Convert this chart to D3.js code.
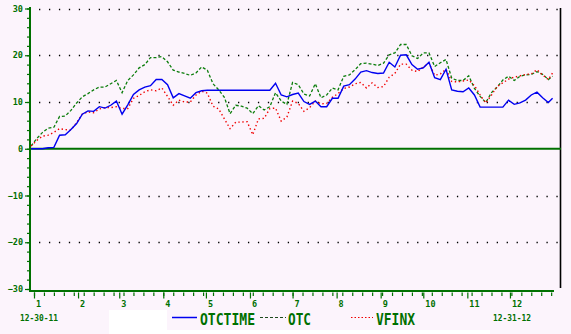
<!DOCTYPE html>
<html>
<head>
<meta charset="utf-8">
<script src="https://cdn.jsdelivr.net/npm/d3@7"></script>
<style>
  html, body { margin: 0; padding: 0; background: #fcf4fc; }
  svg { display: block; }
  text { font-family: "DejaVu Sans Mono", monospace; font-weight: bold; }
</style>
</head>
<body>
<div id="chart"></div>
<script>
// sample dates: every 4 days from 12-30-11, last point on 12-31-12
var START_DATE = "2011-12-30";
var END_DATE = "2012-12-31";
var STEP_DAYS = 4;

var otctime = [0, 0, 0, 0.2, 0.3, 2.9, 3.0, 4.1, 5.4, 7.4, 8.1, 8.0, 9.0, 8.7, 9.3, 10.2, 7.4, 9.4, 11.6, 12.6,
    13.2, 13.5, 14.8, 14.8, 13.7, 10.9, 11.8, 11.3, 10.8, 12.0, 12.4, 12.5, 12.5, 12.5, 12.5, 12.5, 12.5, 12.5, 12.5, 12.5,
    12.5, 12.5, 12.5, 14.0, 11.5, 11.1, 11.6, 11.9, 10.1, 9.5, 10.2, 9.0, 9.0, 10.8, 10.8, 13.4, 13.7, 14.9, 16.4, 16.7,
    16.3, 16.1, 16.2, 18.5, 17.5, 20.0, 20.1, 18.0, 17.0, 17.3, 18.5, 15.2, 14.8, 17.0, 12.6, 12.3, 12.2, 13.0, 11.5, 8.9,
    8.9, 8.9, 8.9, 8.9, 10.4, 9.5, 9.8, 10.4, 11.5, 12.1, 10.9, 9.9, 10.8];

var otc = [0.6, 2.2, 3.5, 4.4, 4.6, 6.9, 7.0, 8.2, 9.8, 11.1, 11.8, 12.6, 13.2, 13.2, 13.9, 14.6, 12.0, 14.6, 15.8, 17.3,
    18.0, 19.5, 19.5, 19.7, 18.6, 16.8, 16.4, 16.1, 15.7, 16.2, 17.5, 16.8, 13.9, 12.6, 11.0, 7.5, 9.3, 9.1, 8.7, 7.5,
    9.2, 8.3, 9.0, 12.0, 10.2, 9.5, 14.2, 13.7, 11.7, 11.3, 13.9, 10.9, 11.5, 13.0, 12.6, 15.5, 15.8, 16.9, 18.2, 18.3,
    18.1, 17.8, 18.3, 20.1, 20.5, 22.3, 22.3, 19.9, 19.3, 20.5, 20.5, 17.6, 18.4, 19.1, 15.1, 14.6, 14.6, 15.6, 12.9, 11.2,
    9.9, 12.0, 13.2, 14.7, 15.5, 14.6, 15.5, 15.8, 15.9, 16.5, 15.9, 14.8, 15.5];

var vfinx = [0.6, 1.8, 2.7, 2.9, 3.5, 4.3, 4.1, 4.0, 5.6, 7.4, 7.9, 7.7, 8.5, 8.8, 8.8, 9.0, 8.6, 8.6, 10.8, 11.4,
    12.2, 12.6, 12.4, 13.0, 11.2, 9.3, 10.4, 10.0, 10.0, 11.5, 12.3, 11.9, 9.1, 8.5, 6.4, 4.3, 5.7, 5.7, 5.8, 3.0,
    6.4, 6.5, 8.6, 8.7, 5.9, 6.8, 10.2, 9.7, 8.0, 8.8, 10.2, 9.6, 9.7, 11.0, 11.8, 12.9, 13.2, 13.9, 14.2, 13.0,
    14.1, 13.1, 13.3, 15.3, 16.1, 18.1, 18.1, 16.8, 16.5, 17.5, 18.3, 15.7, 16.0, 17.0, 14.4, 14.3, 14.5, 14.7, 13.5, 11.5,
    9.8, 11.5, 13.3, 14.1, 14.9, 15.3, 15.6, 15.9, 16.0, 16.9, 15.8, 14.8, 16.2];

var yTickValues = [-30, -20, -10, 0, 10, 20, 30];
var gridValues = [-20, -10, 10, 20, 30];
var monthLabels = ["1", "2", "3", "4", "5", "6", "7", "8", "9", "10", "11", "12"];
var seriesNames = ["OTCTIME", "OTC", "VFINX"];

var W = 571, H = 334;
var BG = "#fcf4fc";
var AXIS_GREEN = "#007000";
var OTC_GREEN = "#0b7d0b";

var parse = d3.utcParse("%Y-%m-%d");

function sampleDates(n) {
    var start = parse(START_DATE);
    return d3.range(n).map(function(i) {
        return i < n - 1 ? d3.utcDay.offset(start, i * STEP_DAYS) : parse(END_DATE);
    });
}

var dates = sampleDates(otctime.length);

function toPoints(values) {
    return values.map(function(v, i) {
        return {date: dates[i], value: v};
    });
}

var svg = d3.select("#chart").append("svg")
    .attr("width", W).attr("height", H);

svg.append("rect").attr("width", W).attr("height", H).attr("fill", BG);
// white patches at the bottom
svg.append("rect").attr("x", 109).attr("y", 310).attr("width", 58).attr("height", 20).attr("fill", "#fff");
svg.append("rect").attr("x", 109).attr("y", 330).attr("width", 381).attr("height", 4).attr("fill", "#fff");

var x = d3.scaleUtc()
    .domain([parse("2012-01-01"), parse("2013-01-01")])
    .range([34, 554]);

var y = d3.scaleLinear()
    .domain([-30, 30])
    .range([289, 8.5]);

/* dotted grid */
svg.append("g").selectAll("line").data(gridValues).enter().append("line")
    .attr("x1", 39).attr("x2", 561)
    .attr("y1", function(d) { return Math.round(y(d)) + 0.5; })
    .attr("y2", function(d) { return Math.round(y(d)) + 0.5; })
    .attr("stroke", "#000")
    .attr("stroke-width", 1.3)
    .attr("stroke-dasharray", "1.3,8.65");

/* right frame line */
svg.append("line")
    .attr("x1", 560.5).attr("x2", 560.5)
    .attr("y1", 8).attr("y2", 288)
    .attr("stroke", "#000").attr("stroke-width", 1.6);

/* zero line */
svg.append("line")
    .attr("x1", 30).attr("x2", 561)
    .attr("y1", y(0)).attr("y2", y(0))
    .attr("stroke", AXIS_GREEN).attr("stroke-width", 2);

/* y axis */
var yMinor = svg.append("g").attr("transform", "translate(30,0)")
    .call(d3.axisLeft(y).tickValues(d3.range(-30, 31, 2)).tickSize(3).tickFormat(""));
var yMajor = svg.append("g").attr("transform", "translate(30,0)")
    .call(d3.axisLeft(y).tickValues(yTickValues).tickSize(5).tickPadding(3));

[yMinor, yMajor].forEach(function(g) {
    g.select(".domain").remove();
    g.selectAll(".tick line").attr("stroke", AXIS_GREEN).attr("stroke-width", 1.2);
});
yMajor.selectAll(".tick text")
    .attr("fill", AXIS_GREEN)
    .attr("font-size", 8.5)
    .attr("font-family", "DejaVu Sans Mono")
    .attr("font-weight", "bold")
    .attr("x", -7);

svg.append("line")
    .attr("x1", 30).attr("x2", 30)
    .attr("y1", 7).attr("y2", 292)
    .attr("stroke", AXIS_GREEN).attr("stroke-width", 2);

/* x axis */
svg.append("line")
    .attr("x1", 29).attr("x2", 554)
    .attr("y1", 291).attr("y2", 291)
    .attr("stroke", AXIS_GREEN).attr("stroke-width", 2);

var weeks = d3.utcWeek.range(parse("2012-01-01"), parse("2013-01-01"));
var months = d3.utcMonth.range(parse("2012-01-01"), parse("2013-01-01"));

var xMinor = svg.append("g").attr("transform", "translate(0,292.5)")
    .call(d3.axisBottom(x).tickValues(weeks).tickSize(3.5).tickFormat(""));
var xMajor = svg.append("g").attr("transform", "translate(0,292.5)")
    .call(d3.axisBottom(x).tickValues(months).tickSize(6)
        .tickFormat(function(d, i) { return monthLabels[i]; }));

[xMinor, xMajor].forEach(function(g) {
    g.select(".domain").remove();
    g.selectAll(".tick line").attr("stroke", AXIS_GREEN).attr("stroke-width", 1.2);
});
xMajor.selectAll(".tick text")
    .attr("fill", AXIS_GREEN)
    .attr("font-size", 8.5)
    .attr("font-family", "DejaVu Sans Mono")
    .attr("font-weight", "bold")
    .attr("text-anchor", "start")
    .attr("x", 1.5)
    .attr("dy", null)
    .attr("y", 14);

/* series */
var line = d3.line()
    .x(function(d) { return x(d.date); })
    .y(function(d) { return y(d.value); });

svg.append("path").datum(toPoints(otc))
    .attr("d", line)
    .attr("fill", "none")
    .attr("stroke", OTC_GREEN)
    .attr("stroke-width", 1.3)
    .attr("stroke-dasharray", "3,2");

svg.append("path").datum(toPoints(vfinx))
    .attr("d", line)
    .attr("fill", "none")
    .attr("stroke", "#f00000")
    .attr("stroke-width", 1.4)
    .attr("stroke-dasharray", "1.4,2.6");

svg.append("path").datum(toPoints(otctime))
    .attr("d", line)
    .attr("fill", "none")
    .attr("stroke", "#0000f0")
    .attr("stroke-width", 1.4);

/* date labels */
svg.append("text").attr("x", 20).attr("y", 320.5)
    .attr("font-size", 8.5).attr("fill", AXIS_GREEN)
    .attr("textLength", 38).attr("lengthAdjust", "spacingAndGlyphs")
    .text("12-30-11");
svg.append("text").attr("x", 493).attr("y", 320.5)
    .attr("font-size", 8.5).attr("fill", AXIS_GREEN)
    .attr("textLength", 38).attr("lengthAdjust", "spacingAndGlyphs")
    .text("12-31-12");

/* legend */
var legend = [
    {name: seriesNames[0], x1: 172, x2: 197, tx: 200, tw: 55, color: "#0000f0", dash: null, width: 1.5},
    {name: seriesNames[1], x1: 260, x2: 286, tx: 288, tw: 23, color: "#1d4a1d", dash: "3,2", width: 1.2},
    {name: seriesNames[2], x1: 351, x2: 373, tx: 376, tw: 39, color: "#f00000", dash: "1.5,2", width: 1.2}
];

var item = svg.append("g").selectAll("g").data(legend).enter().append("g");
item.append("line")
    .attr("x1", function(d) { return d.x1; })
    .attr("x2", function(d) { return d.x2; })
    .attr("y1", 317.5).attr("y2", 317.5)
    .attr("stroke", function(d) { return d.color; })
    .attr("stroke-width", function(d) { return d.width; })
    .attr("stroke-dasharray", function(d) { return d.dash; });
item.append("text")
    .attr("x", function(d) { return d.tx; })
    .attr("y", 325)
    .attr("font-size", 15)
    .attr("fill", AXIS_GREEN)
    .attr("textLength", function(d) { return d.tw; })
    .attr("lengthAdjust", "spacingAndGlyphs")
    .text(function(d) { return d.name; });
</script>
</body>
</html>
